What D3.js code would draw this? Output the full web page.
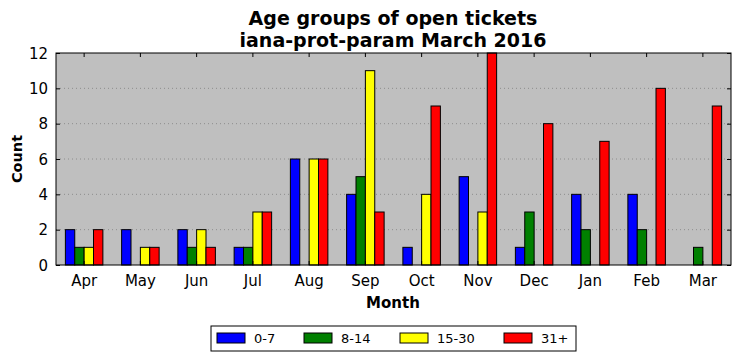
<!DOCTYPE html>
<html>
<head>
<meta charset="utf-8">
<script src="https://cdn.jsdelivr.net/npm/d3@7"></script>
<style>
  body { margin: 0; background: #fff; }
  text { font-family: "DejaVu Sans", sans-serif; }
</style>
</head>
<body>
<svg class="chart" width="740" height="361"></svg>
<script>
// Data
const months = ['Apr', 'May', 'Jun', 'Jul', 'Aug', 'Sep', 'Oct', 'Nov', 'Dec', 'Jan', 'Feb', 'Mar'];
const groups = ['0-7', '8-14', '15-30', '31+'];
const days0to7 = [2, 2, 2, 1, 6, 4, 1, 5, 1, 4, 4, 0];
const days8to14 = [1, 0, 1, 1, 0, 5, 0, 0, 3, 2, 2, 1];
const days15to30 = [1, 1, 2, 3, 6, 11, 4, 3, 0, 0, 0, 0];
const days31plus = [2, 1, 1, 3, 6, 3, 9, 12, 8, 7, 10, 9];
const yTicks = [0, 2, 4, 6, 8, 10, 12];
const colors = ['#0000ff', '#008000', '#ffff00', '#ff0000'];

const series = [days0to7, days8to14, days15to30, days31plus];

let svg = d3.select('.chart');

const plot = { left: 56, right: 731, top: 53, bottom: 265 };

// x scale: one band per month, bars take 4/6 of it
const xScale = d3.scaleBand()
    .domain(months)
    .range([plot.left, plot.right])
    .paddingInner(0)
    .paddingOuter(0);
const barW = xScale.bandwidth() / 6;

const yScale = d3.scaleLinear()
    .domain([0, 12])
    .range([plot.bottom, plot.top]);

// background
svg.append('rect')
    .attr('x', plot.left).attr('y', plot.top)
    .attr('width', plot.right - plot.left).attr('height', plot.bottom - plot.top)
    .attr('fill', '#bfbfbf');

// grid
svg.append('g')
    .selectAll('line')
    .data(yTicks.slice(1, -1))
    .enter()
    .append('line')
    .attr('x1', plot.left).attr('x2', plot.right)
    .attr('y1', (d) => yScale(d)).attr('y2', (d) => yScale(d))
    .attr('stroke', '#808080')
    .attr('stroke-width', 0.8)
    .attr('stroke-dasharray', '1,3');

// bars
series.forEach((vals, si) => {
    svg.append('g')
        .selectAll('rect')
        .data(vals)
        .enter()
        .append('rect')
        .attr('x', (d, i) => xScale(months[i]) + barW + si * barW)
        .attr('y', (d) => yScale(d))
        .attr('width', barW)
        .attr('height', (d) => yScale(0) - yScale(d))
        .attr('fill', colors[si])
        .attr('stroke', '#000')
        .attr('stroke-width', (d) => d > 0 ? 1 : 0);
});

// frame
svg.append('rect')
    .attr('x', plot.left).attr('y', plot.top)
    .attr('width', plot.right - plot.left).attr('height', plot.bottom - plot.top)
    .attr('fill', 'none')
    .attr('stroke', '#000')
    .attr('stroke-width', 1);

// axes, ticks inward (matplotlib classic)
let xAxis = svg.append('g')
    .attr('transform', `translate(0,${plot.bottom})`)
    .call(d3.axisBottom(xScale).tickSizeInner(-4).tickSizeOuter(0).tickPadding(10));
let xAxisTop = svg.append('g')
    .attr('transform', `translate(0,${plot.top})`)
    .call(d3.axisTop(xScale).tickSizeInner(-4).tickSizeOuter(0).tickFormat(''));
let yAxis = svg.append('g')
    .attr('transform', `translate(${plot.left},0)`)
    .call(d3.axisLeft(yScale).tickValues(yTicks).tickSizeInner(-4).tickSizeOuter(0).tickPadding(8));
let yAxisRight = svg.append('g')
    .attr('transform', `translate(${plot.right},0)`)
    .call(d3.axisRight(yScale).tickValues(yTicks).tickSizeInner(-4).tickSizeOuter(0).tickFormat(''));

[xAxis, xAxisTop, yAxis, yAxisRight].forEach((ax) => {
    ax.select('.domain').remove();
    ax.selectAll('text').attr('font-size', 15).attr('fill', '#000')
        .style('font-family', '"DejaVu Sans", sans-serif');
});
yAxis.selectAll('text').attr('dy', '0.35em');

// titles (two lines)
const titleLines = ['Age groups of open tickets', 'iana-prot-param March 2016'];
svg.append('g')
    .selectAll('text')
    .data(titleLines)
    .enter()
    .append('text')
    .attr('x', 393)
    .attr('y', (d, i) => 25 + i * 22)
    .attr('text-anchor', 'middle')
    .attr('font-size', 19).attr('font-weight', 'bold')
    .text((d) => d);

svg.append('text')
    .attr('x', 393).attr('y', 308)
    .attr('text-anchor', 'middle')
    .attr('font-size', 15).attr('font-weight', 'bold')
    .text('Month');
svg.append('text')
    .attr('transform', `translate(22,${(plot.top + plot.bottom) / 2}) rotate(-90)`)
    .attr('text-anchor', 'middle')
    .attr('font-size', 14.5).attr('font-weight', 'bold')
    .text('Count');

// legend
let legendBox = svg.append('g').attr('transform', 'translate(211,326)');
legendBox.append('rect')
    .attr('width', 365).attr('height', 25)
    .attr('fill', '#fff').attr('stroke', '#000').attr('stroke-width', 1);
const legendX = [6, 93, 189, 293];
let legend = legendBox.selectAll('g.item')
    .data(groups)
    .enter()
    .append('g')
    .attr('class', 'item')
    .attr('transform', (d, i) => `translate(${legendX[i]},7)`);
legend.append('rect')
    .attr('width', 28).attr('height', 10)
    .attr('fill', (d, i) => colors[i])
    .attr('stroke', '#000').attr('stroke-width', 1);
legend.append('text')
    .attr('x', 37).attr('y', 10)
    .attr('font-size', 13)
    .text((d) => d);
</script>
</body>
</html>
